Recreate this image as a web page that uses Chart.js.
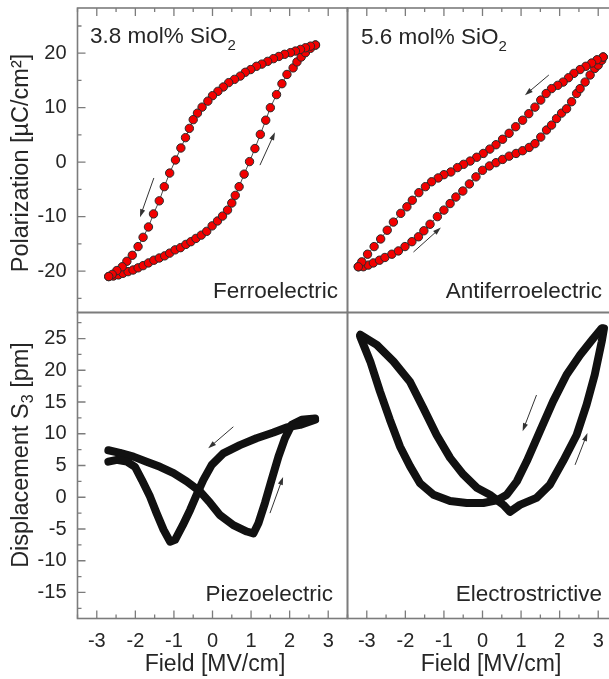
<!DOCTYPE html>
<html>
<head>
<meta charset="utf-8">
<script src="https://cdn.jsdelivr.net/npm/chart.js@4.4.1/dist/chart.umd.min.js"></script>
<style>
  html, body { margin: 0; padding: 0; overflow: hidden; background: #fff; }
  #wrap { position: relative; width: 609px; height: 679px; overflow: hidden; }
  #wrap canvas { position: absolute; left: 0; top: 0; }
</style>
</head>
<body>
<div id="wrap">
  <canvas id="ferro" width="625" height="679"></canvas>
  <canvas id="anti" width="625" height="679"></canvas>
  <canvas id="piezo" width="625" height="679"></canvas>
  <canvas id="electro" width="625" height="679"></canvas>
</div>
<script>
// ---- data ----
const fieldTicks = [-3, -2, -1, 0, 1, 2, 3];
const polTicks = [-20, -10, 0, 10, 20];
const dispTicks = [-15, -10, -5, 0, 5, 10, 15, 20, 25];

// 3.8 mol% SiO2 - ferroelectric loop
const ferroFieldDown = [2.67, 2.54, 2.41, 2.28, 2.15, 2.02, 1.87, 1.72, 1.58, 1.43, 1.28, 1.14, 0.99, 0.85, 0.72, 0.57, 0.42, 0.28, 0.14, 0.00, -0.12, -0.27, -0.39, -0.50, -0.60, -0.70, -0.82, -0.96, -1.11, -1.25, -1.38, -1.53, -1.66, -1.80, -1.93, -2.08, -2.22, -2.34, -2.48, -2.60, -2.69];
const ferroPolDown = [21.5, 21.3, 21.0, 20.7, 20.4, 20.1, 19.8, 19.4, 19.0, 18.5, 18.0, 17.6, 17.0, 16.5, 15.8, 15.2, 14.6, 13.8, 13.0, 12.2, 11.2, 10.1, 9.0, 7.8, 6.2, 4.5, 2.6, 0.4, -2.0, -4.5, -7.1, -9.5, -11.9, -13.8, -15.5, -17.1, -18.2, -19.2, -19.9, -20.6, -21.0];
const ferroFieldUp = [-2.69, -2.57, -2.44, -2.32, -2.19, -2.06, -1.93, -1.80, -1.66, -1.52, -1.38, -1.24, -1.11, -0.97, -0.83, -0.69, -0.56, -0.43, -0.29, -0.15, -0.01, 0.13, 0.26, 0.39, 0.50, 0.59, 0.69, 0.82, 0.96, 1.10, 1.24, 1.38, 1.50, 1.66, 1.80, 1.93, 2.09, 2.19, 2.30, 2.41, 2.54, 2.67];
const ferroPolUp = [-21.0, -20.9, -20.7, -20.4, -20.1, -19.8, -19.4, -19.0, -18.5, -18.0, -17.6, -17.2, -16.7, -16.1, -15.7, -15.1, -14.6, -14.0, -13.4, -12.7, -11.7, -10.8, -9.9, -8.8, -7.5, -6.1, -4.5, -2.2, 0.1, 2.5, 5.1, 7.7, 10.0, 12.4, 14.4, 16.1, 17.3, 18.4, 19.3, 20.1, 20.9, 21.5];

// 5.6 mol% SiO2 - antiferroelectric loop
const antiFieldDown = [3.13, 2.97, 2.83, 2.68, 2.53, 2.37, 2.23, 2.09, 1.95, 1.79, 1.65, 1.51, 1.36, 1.20, 1.04, 0.86, 0.69, 0.52, 0.35, 0.19, 0.02, -0.15, -0.32, -0.49, -0.65, -0.82, -1.00, -1.15, -1.32, -1.48, -1.65, -1.82, -1.96, -2.12, -2.31, -2.47, -2.64, -2.81, -2.98, -3.13, -3.22];
const antiPolDown = [19.3, 18.8, 18.2, 17.6, 17.0, 16.3, 15.5, 14.7, 14.1, 13.5, 12.6, 11.4, 10.1, 8.9, 7.7, 6.5, 5.3, 4.2, 3.2, 2.4, 1.6, 0.9, 0.2, -0.4, -1.0, -1.8, -2.3, -2.9, -3.6, -4.5, -5.6, -7.0, -8.2, -9.4, -11.0, -12.5, -14.1, -15.5, -16.9, -18.3, -19.2];
const antiFieldUp = [-3.22, -3.09, -2.96, -2.83, -2.67, -2.53, -2.35, -2.18, -2.01, -1.83, -1.66, -1.52, -1.36, -1.17, -1.00, -0.84, -0.69, -0.51, -0.34, -0.17, 0.00, 0.18, 0.35, 0.52, 0.69, 0.87, 1.04, 1.21, 1.36, 1.51, 1.66, 1.79, 1.92, 2.05, 2.18, 2.31, 2.44, 2.53, 2.66, 2.79, 2.91, 3.00, 3.09, 3.13];
const antiPolUp = [-19.2, -19.2, -18.9, -18.5, -18.0, -17.5, -16.9, -16.3, -15.5, -14.6, -13.7, -12.6, -11.4, -10.0, -8.8, -7.6, -6.4, -5.3, -4.0, -2.7, -1.5, -0.7, -0.1, 0.5, 1.1, 1.6, 2.1, 2.7, 3.4, 4.6, 5.9, 6.8, 8.0, 9.0, 9.8, 11.1, 12.6, 13.5, 14.7, 16.0, 17.2, 17.8, 18.7, 19.3];

// piezoelectric butterfly
const piezoFieldDown = [2.66, 2.27, 1.92, 1.58, 1.14, 0.71, 0.28, -0.02, -0.24, -0.41, -0.58, -0.77, -0.97, -1.10, -1.27, -1.45, -1.62, -1.83, -2.01, -2.22, -2.48, -2.70];
const piezoDispDown = [12.2, 11.4, 11.0, 10.2, 9.3, 8.2, 6.9, 5.1, 2.7, 0.4, -2.0, -4.4, -6.7, -7.0, -5.1, -2.5, 0.1, 2.7, 4.8, 5.6, 5.9, 5.6];
const piezoFieldUp = [-2.70, -2.40, -2.05, -1.71, -1.36, -1.01, -0.67, -0.32, -0.06, 0.19, 0.54, 0.89, 1.06, 1.19, 1.36, 1.53, 1.71, 1.88, 2.05, 2.31, 2.66];
const piezoDispUp = [7.4, 7.0, 6.4, 5.6, 4.8, 3.8, 2.5, 0.9, -0.9, -2.8, -4.4, -5.4, -5.7, -4.1, -0.9, 2.7, 6.4, 9.3, 11.4, 12.2, 12.4];

// electrostrictive parabola
const electroFieldDown = [3.09, 2.87, 2.53, 2.18, 1.83, 1.49, 1.15, 0.89, 0.63, 0.37, 0.02, -0.41, -0.84, -1.27, -1.62, -1.88, -2.14, -2.40, -2.66, -2.91, -3.17];
const electroDispDown = [26.6, 25.0, 22.4, 19.3, 15.1, 10.4, 5.7, 2.5, 0.4, -0.5, -0.9, -0.9, -0.6, 0.4, 2.2, 4.9, 8.0, 12.2, 16.7, 21.4, 25.3];
const electroFieldUp = [-3.17, -2.74, -2.31, -1.88, -1.53, -1.19, -0.84, -0.50, -0.15, 0.19, 0.54, 0.71, 0.97, 1.40, 1.75, 2.09, 2.44, 2.70, 2.91, 3.09, 3.15];
const electroDispUp = [25.6, 24.0, 21.4, 18.2, 14.0, 9.8, 6.2, 3.6, 1.5, 0.4, -1.2, -2.3, -1.2, -0.1, 2.0, 5.7, 9.8, 14.6, 19.3, 24.5, 26.6];

// arrows showing sweep direction, in data units [x1, y1, x2, y2]
const ferroArrows = [[-1.52, -2.9, -1.88, -10.1], [1.23, -0.55, 1.62, 5.5]];
const antiArrows = [[1.72, 16.0, 1.10, 12.3], [-1.79, -16.5, -1.08, -12.0]];
const piezoArrows = [[0.54, 11.1, -0.11, 7.7], [1.49, -2.5, 1.83, 3.2]];
const electroArrows = [[1.40, 16.1, 1.04, 10.4], [2.40, 5.1, 2.72, 10.1]];

// ---- drawing ----
const W = 625, H = 679;
const FONT = "'Liberation Sans', Arial, Helvetica, sans-serif";
const TXT = '#262626';
const AXC = '#7c7c7c';
Chart.defaults.font.family = FONT;

const zip = (xs, ys) => xs.map((v, i) => ({ x: v, y: ys[i] }));

// text made of parts, some of them subscripts
function drawParts(ctx, parts, x, y, align, size) {
  const subSize = Math.round(size * 0.66);
  let total = 0;
  const widths = parts.map(p => {
    ctx.font = (p[1] ? subSize : size) + 'px ' + FONT;
    const w = ctx.measureText(p[0]).width;
    total += w;
    return w;
  });
  let cx = align === 'right' ? x - total : align === 'center' ? x - total / 2 : x;
  parts.forEach((p, i) => {
    ctx.font = (p[1] ? subSize : size) + 'px ' + FONT;
    ctx.fillText(p[0], cx, p[1] ? y + size * 0.3 : y);
    cx += widths[i];
  });
}

const deco = {
  id: 'deco',
  afterDatasetsDraw(chart, args, o) {
    const { ctx, chartArea: a } = chart;
    const xs = chart.scales.x, ys = chart.scales.y;
    ctx.save();

    // inward tick marks on the outer sides
    ctx.strokeStyle = AXC;
    ctx.lineWidth = 1.3;
    const marks = (scale, half) => {
      const out = [];
      for (let k = Math.ceil(scale.min / half); k * half <= scale.max; k++) {
        out.push({ v: k * half, major: k % 2 === 0 });
      }
      return out;
    };
    ctx.beginPath();
    (o.sides || []).forEach(side => {
      const horiz = side === 'top' || side === 'bottom';
      const scale = horiz ? xs : ys;
      const half = horiz ? 0.5 : o.yHalf;
      marks(scale, half).forEach(m => {
        const p = scale.getPixelForValue(m.v);
        const len = m.major ? 8 : 4;
        if (side === 'top') { ctx.moveTo(p, a.top); ctx.lineTo(p, a.top + len); }
        if (side === 'bottom') { ctx.moveTo(p, a.bottom); ctx.lineTo(p, a.bottom - len); }
        if (side === 'left') { ctx.moveTo(a.left, p); ctx.lineTo(a.left + len, p); }
        if (side === 'right') { ctx.moveTo(a.right, p); ctx.lineTo(a.right - len, p); }
      });
    });
    ctx.stroke();

    // frame
    ctx.lineWidth = 1.6;
    ctx.strokeRect(a.left, a.top, a.right - a.left, a.bottom - a.top);

    // direction arrows
    ctx.strokeStyle = '#333';
    ctx.fillStyle = '#333';
    ctx.lineWidth = 1;
    (o.arrows || []).forEach(r => {
      const x1 = xs.getPixelForValue(r[0]), y1 = ys.getPixelForValue(r[1]);
      const x2 = xs.getPixelForValue(r[2]), y2 = ys.getPixelForValue(r[3]);
      const ang = Math.atan2(y2 - y1, x2 - x1);
      ctx.beginPath();
      ctx.moveTo(x1, y1);
      ctx.lineTo(x2 - 5 * Math.cos(ang), y2 - 5 * Math.sin(ang));
      ctx.stroke();
      ctx.beginPath();
      ctx.moveTo(x2, y2);
      ctx.lineTo(x2 - 8 * Math.cos(ang) + 2.6 * Math.sin(ang), y2 - 8 * Math.sin(ang) - 2.6 * Math.cos(ang));
      ctx.lineTo(x2 - 8 * Math.cos(ang) - 2.6 * Math.sin(ang), y2 - 8 * Math.sin(ang) + 2.6 * Math.cos(ang));
      ctx.closePath();
      ctx.fill();
    });

    // texts
    ctx.fillStyle = TXT;
    (o.texts || []).forEach(t => {
      ctx.save();
      if (t.rot) {
        ctx.translate(t.x, t.y);
        ctx.rotate(-Math.PI / 2);
        ctx.textBaseline = 'middle';
        drawParts(ctx, t.parts, 0, 0, 'center', t.size);
      } else {
        ctx.textBaseline = t.base || 'alphabetic';
        drawParts(ctx, t.parts, t.x, t.y, t.align, t.size);
      }
      ctx.restore();
    });
    ctx.restore();
  }
};

function redSet(xs, ys) {
  return {
    data: zip(xs, ys), showLine: true,
    borderColor: '#4a4a4a', borderWidth: 1,
    pointRadius: 4.2, pointBorderWidth: 1,
    pointBackgroundColor: '#f20000', pointBorderColor: '#2a2a2a'
  };
}
function blackSet(xs, ys) {
  return {
    data: zip(xs, ys), showLine: true,
    borderColor: '#111', borderWidth: 8, pointRadius: 0,
    borderJoinStyle: 'round', borderCapStyle: 'round'
  };
}

// drop the room Chart.js keeps for overhanging tick labels
function noPad(s) {
  s.paddingTop = 0; s.paddingBottom = 0; s.paddingLeft = 0; s.paddingRight = 0;
}

function panel(id, area, showX, showY, yRange, yTicks, datasets, decoOpts) {
  return new Chart(document.getElementById(id), {
    type: 'scatter',
    data: { datasets },
    options: {
      responsive: false,
      animation: false,
      events: [],
      layout: {
        padding: {
          left: showY ? 0 : area.left,
          top: area.top,
          right: W - area.right,
          bottom: showX ? 0 : H - area.bottom
        }
      },
      plugins: { legend: { display: false }, tooltip: { enabled: false }, deco: decoOpts },
      scales: {
        x: {
          type: 'linear', min: -3.5, max: 3.5, display: showX,
          afterBuildTicks: s => { s.ticks = fieldTicks.map(v => ({ value: v })); },
          afterFit: s => { noPad(s); if (showX) s.height = H - area.bottom; },
          grid: { display: false, drawTicks: false },
          border: { display: false },
          ticks: { padding: 11, color: TXT, font: { size: 20 }, maxRotation: 0, autoSkip: false }
        },
        y: {
          type: 'linear', min: yRange[0], max: yRange[1], display: showY,
          afterBuildTicks: s => { s.ticks = yTicks.map(v => ({ value: v })); },
          afterFit: s => { noPad(s); if (showY) s.width = area.left; },
          grid: { display: false, drawTicks: false },
          border: { display: false },
          ticks: { padding: 11, color: TXT, font: { size: 20 }, autoSkip: false }
        }
      }
    },
    plugins: [deco]
  });
}

const xL = [77.5, 347.5], xR = [347.5, 617.5];
const yT = [8, 312.5], yB = [312.5, 618.5];
const polRange = [-27.6, 28.3], dispRange = [-19.1, 29.1];

panel('ferro', { left: xL[0], right: xL[1], top: yT[0], bottom: yT[1] }, false, true, polRange, polTicks,
  [redSet(ferroFieldDown, ferroPolDown), redSet(ferroFieldUp, ferroPolUp)],
  {
    sides: ['top', 'left'], yHalf: 5, arrows: ferroArrows,
    texts: [
      { parts: [['3.8 mol% SiO'], ['2', true]], x: 90, y: 43, align: 'left', size: 22.5 },
      { parts: [['Ferroelectric']], x: 338, y: 298, align: 'right', size: 22.5 },
      { parts: [['Polarization [µC/cm²]']], x: 22, y: 163, rot: true, size: 23.5 }
    ]
  });

panel('anti', { left: xR[0], right: xR[1], top: yT[0], bottom: yT[1] }, false, false, polRange, polTicks,
  [redSet(antiFieldDown, antiPolDown), redSet(antiFieldUp, antiPolUp)],
  {
    sides: ['top', 'right'], yHalf: 5, arrows: antiArrows,
    texts: [
      { parts: [['5.6 mol% SiO'], ['2', true]], x: 361, y: 44, align: 'left', size: 22.5 },
      { parts: [['Antiferroelectric']], x: 602, y: 298, align: 'right', size: 22.5 }
    ]
  });

panel('piezo', { left: xL[0], right: xL[1], top: yB[0], bottom: yB[1] }, true, true, dispRange, dispTicks,
  [blackSet(piezoFieldDown, piezoDispDown), blackSet(piezoFieldUp, piezoDispUp)],
  {
    sides: ['bottom', 'left'], yHalf: 2.5, arrows: piezoArrows,
    texts: [
      { parts: [['Piezoelectric']], x: 333, y: 601, align: 'right', size: 22.5 },
      { parts: [['Displacement S'], ['3', true], [' [pm]']], x: 22, y: 455, rot: true, size: 23.5 },
      { parts: [['Field [MV/cm]']], x: 215, y: 665, align: 'center', base: 'middle', size: 23 }
    ]
  });

panel('electro', { left: xR[0], right: xR[1], top: yB[0], bottom: yB[1] }, true, false, dispRange, dispTicks,
  [blackSet(electroFieldDown, electroDispDown), blackSet(electroFieldUp, electroDispUp)],
  {
    sides: ['bottom', 'right'], yHalf: 2.5, arrows: electroArrows,
    texts: [
      { parts: [['Electrostrictive']], x: 602, y: 601, align: 'right', size: 22.5 },
      { parts: [['Field [MV/cm]']], x: 491, y: 665, align: 'center', base: 'middle', size: 23 }
    ]
  });
</script>
</body>
</html>
